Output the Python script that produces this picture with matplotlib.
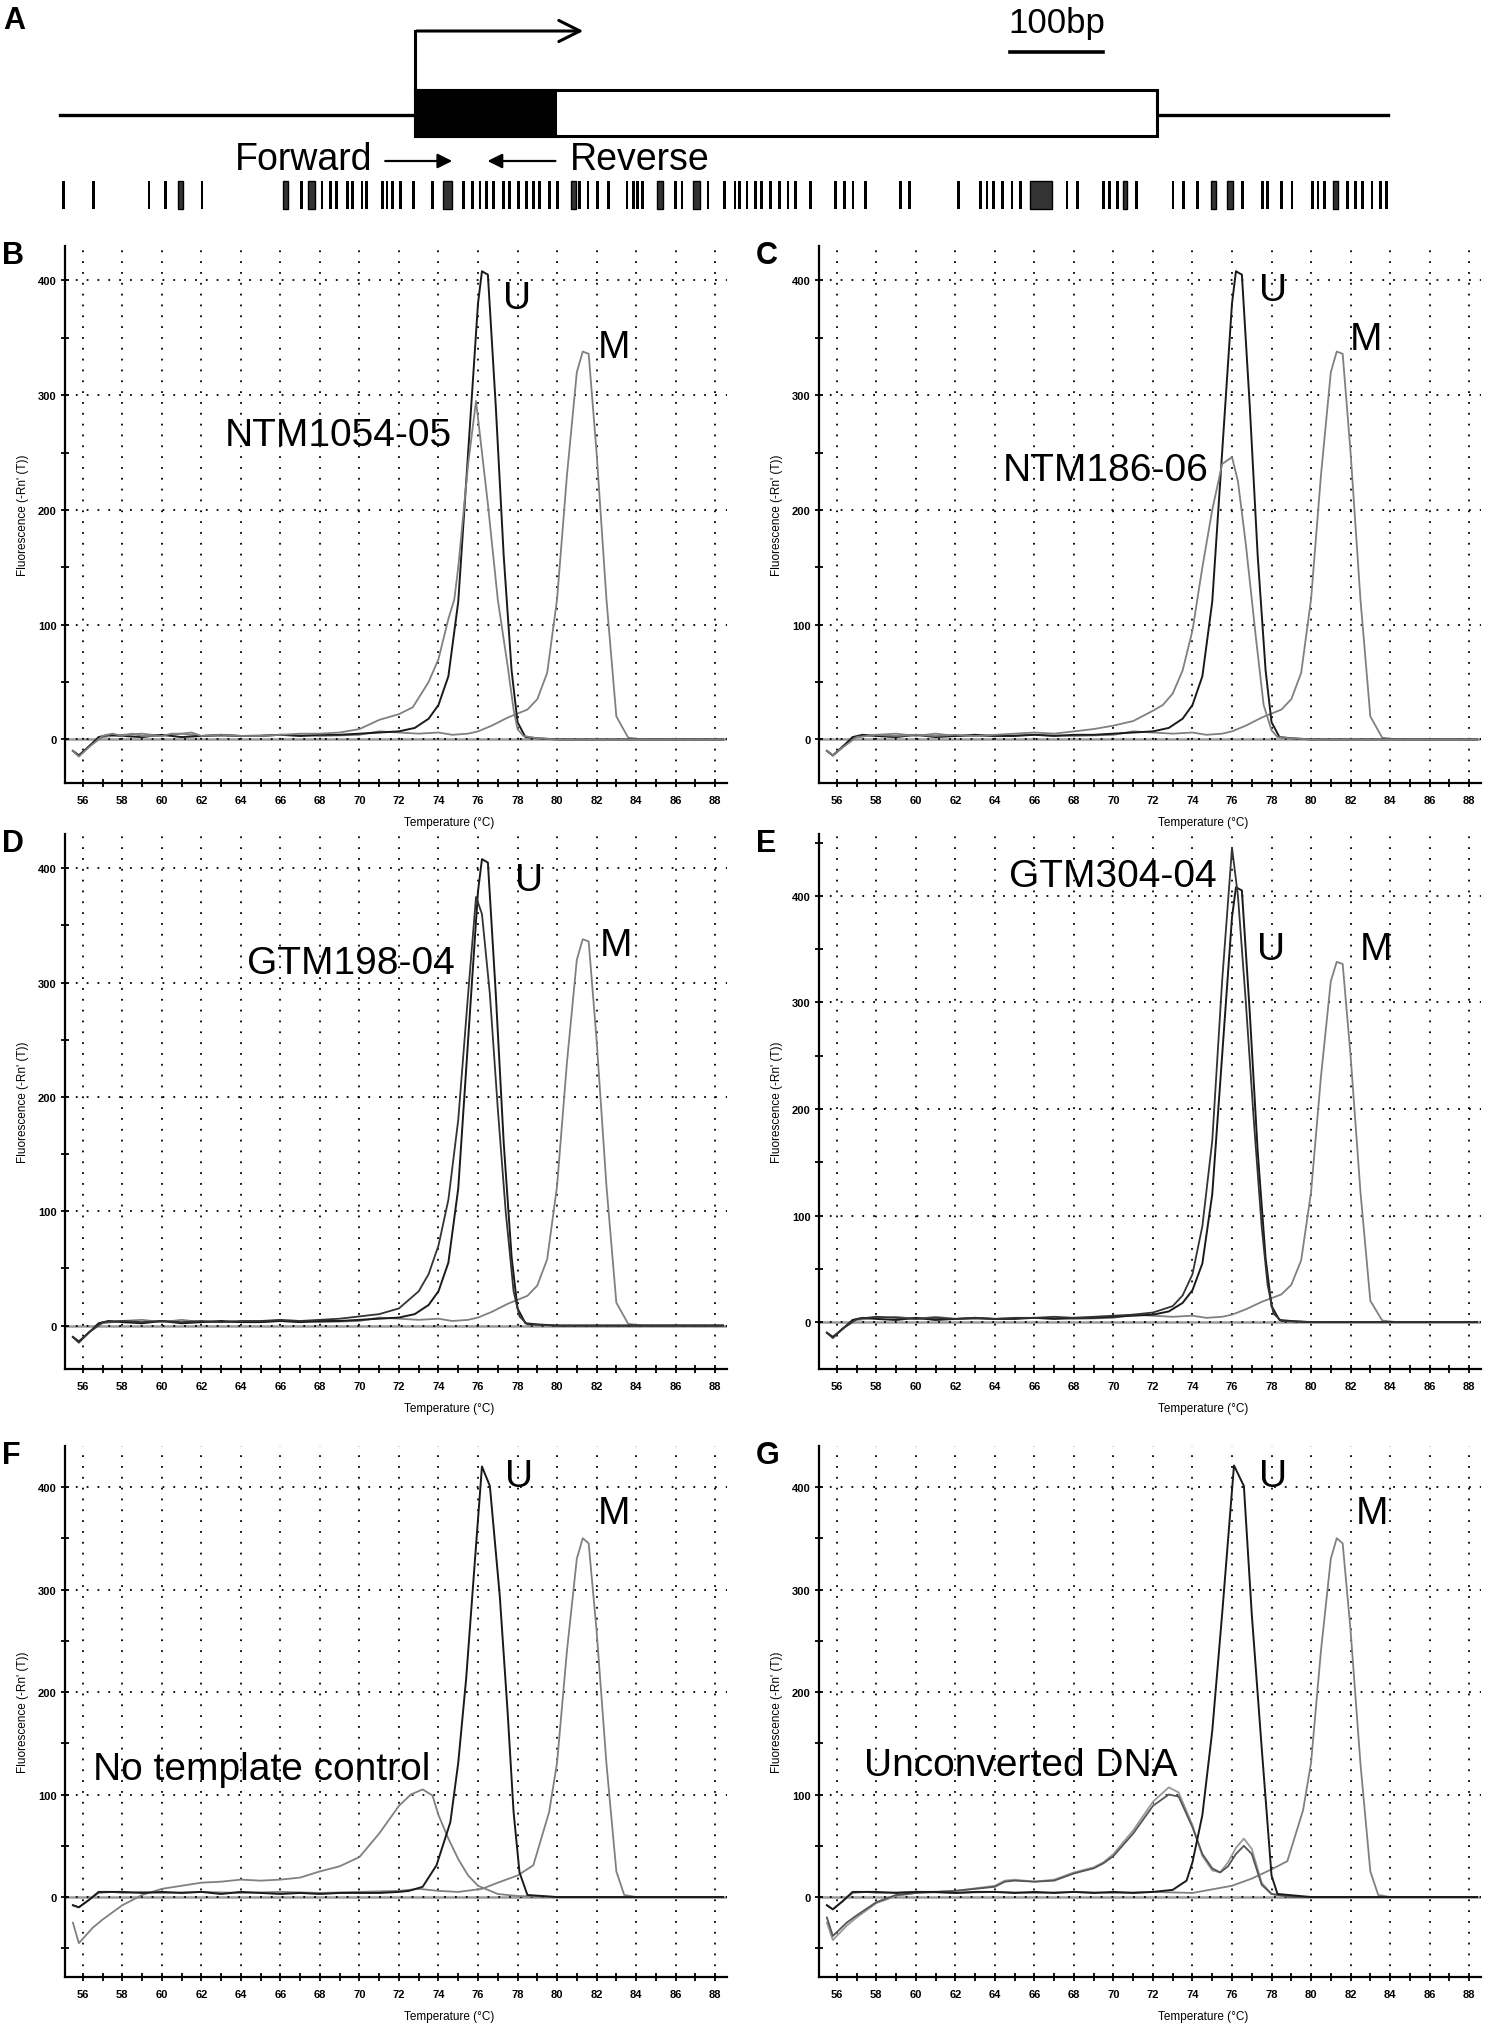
import matplotlib
matplotlib.use("Agg")
import matplotlib.pyplot as plt
from matplotlib.patches import Rectangle
from matplotlib.ticker import MultipleLocator

plt.rcParams["font.family"] = ["Liberation Sans", "DejaVu Sans"]

# ---------------- panel A: gene schematic (positions in bp, TSS = 0) ----------------
region_start, region_end = -382, 1046
exon_start, coding_end, exon_end = 0, 151, 798
tss_arrow_end = 184
fwd_primer = (-35, 43)
rev_primer = (154, 75)
scale_bar = (640, 740)
cpg_sites = [-378, -346, -286, -268, -229, -122, -100, -91, -84, -73, -67, -57, -52,
             -35, -30, -24, -16, -2, 19, 52, 62, 70, 77, 84, 95, 102, 111, 120, 127,
             134, 145, 153, 177, 186, 196, 208, 228, 235, 239, 245, 280, 287, 315,
             333, 344, 349, 357, 366, 373, 382, 392, 401, 409, 425, 452, 462, 471,
             484, 522, 532, 584, 608, 615, 622, 632, 642, 651, 701, 712, 740, 747,
             755, 776, 815, 826, 841, 890, 911, 917, 932, 943, 965, 971, 978, 1003,
             1011, 1019, 1029, 1038, 1045]
cpg_blocks = [(-255, -250), (-142, -137), (-115, -108), (30, 40), (168, 173), (260, 267),
              (299, 306), (661, 685), (761, 766), (856, 861), (873, 880), (987, 992)]

# ---------------- melt curves: temperature (C) and -dF/dT ----------------
# U and M standards (panels B-E)
std_u_t = [55.5, 55.8, 56.2, 56.8, 57.3, 58, 59, 60, 61, 62, 63, 64, 65, 66, 67, 68, 69, 70,
           71, 72, 72.8, 73.5, 74.0, 74.5, 75.0, 75.5, 76.0, 76.2, 76.5, 76.9, 77.3, 77.7,
           78.0, 78.4, 79, 80, 84, 88.4]
std_u_f = [-10, -14, -8, 2, 4, 3, 2, 4, 2, 3, 4, 3, 3, 4, 3, 4, 4, 5, 6, 7, 10, 18, 30, 55,
           120, 250, 380, 408, 405, 290, 160, 60, 15, 2, 1, 0, 0, 0]
std_m_t = [55.5, 55.8, 56.3, 57, 58, 59, 60, 61, 62, 64, 66, 68, 70, 71, 72, 73, 74, 74.7,
           75.5, 76, 76.7, 77.5, 78.5, 79, 79.5, 80, 80.5, 81.0, 81.3, 81.6, 82.0, 82.5, 83,
           83.6, 84.3, 88.4]
std_m_f = [-10, -14, -6, 2, 4, 5, 3, 5, 3, 3, 4, 3, 4, 7, 6, 5, 6, 4, 5, 7, 12, 19, 26, 35,
           58, 122, 230, 320, 338, 336, 250, 122, 20, 1.5, 0, 0]

# B: NTM1054-05
b_t = [55.5, 55.8, 56.3, 57, 57.5, 58, 58.5, 59, 60, 60.5, 61, 61.5, 62, 63, 64, 65, 66, 67,
       68, 69, 70, 71, 72, 72.7, 73.5, 74, 74.5, 74.8, 75.0, 75.5, 75.9, 76.2, 76.5, 77,
       77.5, 77.8, 78, 78.3, 79, 80, 88.4]
b_f = [-10, -15, -7, 3, 5, 3, 5, 3, 3, 5, 5, 6, 3, 4, 3, 3, 4, 5, 5, 6, 9, 17, 22, 28, 50,
       70, 105, 122, 150, 240, 295, 250, 205, 122, 64, 26, 9, 3, 1, 0, 0]
# C: NTM186-06
c_t = [55.5, 55.8, 56.3, 57, 58, 59, 60, 61, 62, 63, 64, 65, 66, 67, 68, 69, 70, 71, 72,
       72.5, 73, 73.5, 74, 74.5, 75, 75.5, 76.0, 76.3, 76.7, 77.2, 77.6, 78.0, 78.3, 79, 80,
       88.4]
c_f = [-10, -14, -7, 2, 4, 3, 4, 3, 4, 3, 4, 5, 6, 5, 7, 9, 12, 16, 25, 30, 40, 60, 95, 150,
       200, 240, 246, 225, 170, 90, 30, 8, 2, 1, 0, 0]
# D: GTM198-04
d_t = [55.5, 55.8, 56.3, 57, 58, 59, 60, 61, 62, 63, 64, 65, 66, 67, 68, 69, 70, 71, 72, 73,
       73.5, 74, 74.5, 75, 75.5, 75.9, 76.2, 76.6, 77.0, 77.4, 77.8, 78.1, 78.5, 80, 88.4]
d_f = [-10, -15, -6, 3, 4, 3, 4, 3, 4, 3, 4, 4, 5, 4, 5, 6, 8, 10, 15, 30, 45, 70, 110, 180,
       290, 375, 360, 290, 190, 100, 30, 8, 1, 0, 0]
# E: GTM304-04
e_t = [55.5, 55.8, 56.3, 57, 58, 59, 60, 61, 62, 63, 64, 65, 66, 67, 68, 69, 70, 71, 72, 73,
       73.5, 74, 74.5, 75, 75.5, 76.0, 76.3, 76.7, 77.1, 77.5, 77.8, 78.1, 78.5, 80, 88.4]
e_f = [-10, -15, -6, 3, 5, 4, 3, 4, 3, 4, 3, 4, 4, 5, 4, 5, 6, 7, 9, 15, 25, 45, 90, 170,
       320, 445, 400, 300, 190, 90, 35, 8, 1, 0, 0]

# F: standards + no template control
f_u_t = [55.5, 55.8, 56.3, 56.8, 57.5, 58, 59, 60, 61, 62, 63, 64, 65, 66, 67, 68, 69, 70,
         71, 72, 72.5, 73.2, 73.9, 74.6, 75.0, 75.4, 75.8, 76.2, 76.6, 77.1, 77.5, 77.8,
         78.1, 78.5, 80, 88.4]
f_u_f = [-8, -10, -3, 5, 5, 5, 4, 5, 4, 5, 3, 5, 4, 3, 4, 3, 4, 4, 4, 5, 6, 10, 31, 73, 131,
         213, 317, 420, 401, 294, 180, 83, 24, 2, 0, 0]
f_m_t = [55.5, 55.8, 56.3, 56.8, 57.5, 58, 59, 60, 62, 64, 66, 68, 70, 72, 73, 74, 75, 76.2,
         77, 78, 78.8, 79.6, 80, 80.5, 81.0, 81.3, 81.6, 82.0, 82.5, 83, 83.4, 84, 88.4]
f_m_f = [-8, -10, -3, 4, 5, 4, 5, 4, 5, 4, 5, 4, 5, 6, 8, 6, 5, 8, 14, 21, 31, 83, 131, 240,
         330, 350, 345, 260, 130, 25, 2, 0, 0]
f_n_t = [55.5, 55.8, 56.5, 57, 58, 59, 60, 61, 62, 63, 64, 65, 66, 67, 68, 69, 70, 71, 72,
         72.6, 73.2, 73.7, 74, 74.5, 75, 75.5, 76, 77, 78, 80, 88.4]
f_n_f = [-25, -45, -30, -22, -8, 2, 8, 11, 14, 15, 17, 16, 17, 19, 25, 30, 39, 62, 89, 100,
         105, 99, 80, 57, 37, 21, 11, 3, 1, 0, 0]

# G: standards + unconverted DNA (two replicates)
g_u_t = [55.5, 55.8, 56.3, 56.8, 57.5, 58, 59, 60, 61, 62, 63, 64, 65, 66, 67, 68, 69, 70,
         71, 72, 73, 73.7, 74, 74.5, 75, 75.5, 76.1, 76.6, 77, 77.5, 78, 78.3, 80, 88.4]
g_u_f = [-8, -12, -4, 5, 5, 5, 4, 5, 5, 4, 5, 5, 4, 5, 4, 5, 4, 5, 4, 5, 7, 16, 34, 80, 162,
         276, 421, 401, 276, 146, 21, 3, 0, 0]
g_m_t = [55.5, 55.8, 56.3, 56.8, 57.5, 58, 60, 62, 64, 66, 68, 70, 72, 74, 76, 77, 78, 78.8,
         79.6, 80, 80.5, 81.0, 81.3, 81.6, 82.0, 82.5, 83, 83.4, 84, 88.4]
g_m_f = [-8, -12, -4, 4, 5, 4, 5, 4, 5, 4, 5, 4, 5, 4, 11, 18, 27, 35, 85, 131, 240, 330,
         350, 345, 260, 130, 25, 2, 0, 0]
g_c_t = [55.5, 55.8, 56.5, 57, 58, 59, 60, 62, 64, 64.5, 65, 66, 67, 68, 69, 69.5, 70, 71,
         72, 72.8, 73.3, 74, 74.5, 75, 75.4, 75.8, 76.2, 76.6, 77, 77.5, 78, 79, 88.4]
g_c1_f = [-25, -42, -28, -20, -6, 1, 4, 6, 11, 16, 17, 15, 17, 24, 29, 34, 42, 65, 93, 107,
          102, 70, 40, 26, 24, 34, 48, 57, 47, 14, 3, 0, 0]
g_c2_f = [-20, -38, -25, -18, -5, 2, 4, 6, 10, 15, 16, 15, 16, 23, 28, 33, 40, 62, 89, 100,
          98, 68, 42, 28, 24, 30, 42, 50, 42, 12, 3, 0, 0]

W, H = 1486, 2033
fig = plt.figure(figsize=(W / 100, H / 100), dpi=100)

# ---------------- panel A ----------------
px_per_bp = 0.93
tss_px = 415
axA = fig.add_axes([0, 1 - 290 / H, 1, 290 / H])
axA.set_xlim(-tss_px / px_per_bp, (W - tss_px) / px_per_bp)
axA.set_ylim(290, 0)
axA.axis("off")
axA.plot([region_start, exon_start], [116, 116], color="black", lw=2.4)
axA.plot([exon_end, region_end], [116, 116], color="black", lw=2.4)
axA.add_patch(Rectangle((exon_start, 91), exon_end - exon_start, 46, facecolor="white",
                        edgecolor="black", lw=2.2, zorder=3))
axA.add_patch(Rectangle((exon_start, 91), coding_end - exon_start, 46, facecolor="black",
                        edgecolor="black", lw=2.2, zorder=4))
axA.plot([exon_start, exon_start], [91, 32], color="black", lw=2.2)
axA.annotate("", xy=(tss_arrow_end, 32), xytext=(exon_start - 1, 32),
             arrowprops=dict(arrowstyle="->", lw=2.2, mutation_scale=38, color="black"))
axA.annotate("", xy=(fwd_primer[1], 162), xytext=(fwd_primer[0], 162),
             arrowprops=dict(arrowstyle="-|>", lw=1.6, mutation_scale=22, color="black"))
axA.annotate("", xy=(rev_primer[1], 162), xytext=(rev_primer[0], 162),
             arrowprops=dict(arrowstyle="-|>", lw=1.6, mutation_scale=22, color="black"))
axA.text(fwd_primer[0] - 11, 160, "Forward", ha="right", va="center", fontsize=27)
axA.text(rev_primer[0] + 13, 160, "Reverse", ha="left", va="center", fontsize=27)
axA.plot(scale_bar, [53, 53], color="black", lw=2.6)
axA.text(sum(scale_bar) / 2, 24, "100bp", ha="center", va="center", fontsize=25)
axA.bar(cpg_sites, 28, width=3.0, bottom=182, color="black")
axA.bar([(s + e) / 2 for s, e in cpg_blocks], 28, width=[e - s for s, e in cpg_blocks],
        bottom=182, color="#333333", edgecolor="black", lw=1.0)
fig.text(3 / W, 1 - 6 / H, "A", fontsize=22, weight="bold", va="top")

# ---------------- melt curve panels ----------------
DARK, GREY = "#1a1a1a", "#808080"


def melt_panel(left, top, bottom, ylim, curves, letter, name, name_xy, u_xy, m_xy):
    h_px = bottom - top
    ax = fig.add_axes([left / W, 1 - bottom / H, 662 / W, h_px / H])
    ax.set_xlim(55.1, 88.6)
    ax.set_ylim(*ylim)
    ax.xaxis.set_major_locator(MultipleLocator(2))
    ax.xaxis.set_minor_locator(MultipleLocator(1))
    ax.yaxis.set_major_locator(MultipleLocator(100))
    ax.yaxis.set_minor_locator(MultipleLocator(50))
    ax.grid(True, which="major", color="black", lw=1.3, ls=(0, (1, 5)), zorder=0)
    ax.axhline(0, color="#9a9a9a", lw=1.8, zorder=1)
    for s in ("top", "right"):
        ax.spines[s].set_visible(False)
    for s in ("left", "bottom"):
        ax.spines[s].set_linewidth(1.6)
    ax.tick_params(which="both", direction="inout", length=6, width=1.3)
    ax.tick_params(axis="x", pad=6, labelsize=8)
    ax.tick_params(axis="y", pad=3, labelsize=8)
    for lab in ax.get_xticklabels() + ax.get_yticklabels():
        lab.set_fontweight("bold")
    for t, f, col, lw in curves:
        ax.plot(t, f, color=col, lw=lw, zorder=3)
    ax.text(0.58, -39 / h_px, "Temperature (\u00b0C)", transform=ax.transAxes,
            ha="center", va="center", fontsize=8.5)
    ax.text(-42 / 662, 0.5, "Fluorescence (-Rn' (T))", transform=ax.transAxes,
            rotation=90, ha="center", va="center", fontsize=8.5)
    ax.text(name_xy[0], name_xy[1], name, ha="left", va="center", fontsize=28)
    ax.text(u_xy[0], u_xy[1], "U", ha="center", va="center", fontsize=28)
    ax.text(m_xy[0], m_xy[1], "M", ha="center", va="center", fontsize=28)
    fig.text((left - 63) / W, 1 - (top - 6) / H, letter, fontsize=22, weight="bold", va="top")
    return ax


L1, L2 = 65, 819
std_curves = [(std_m_t, std_m_f, GREY, 1.3), (std_u_t, std_u_f, DARK, 1.4)]

melt_panel(L1, 247, 784, (-38, 430), std_curves + [(b_t, b_f, GREY, 1.3)],
           "B", "NTM1054-05", (63.2, 265), (78.0, 385), (82.9, 342))
melt_panel(L2, 247, 784, (-38, 430), std_curves + [(c_t, c_f, GREY, 1.3)],
           "C", "NTM186-06", (64.4, 235), (78.1, 392), (82.8, 349))
melt_panel(L1, 835, 1370, (-38, 430), std_curves + [(d_t, d_f, "#333333", 1.3)],
           "D", "GTM198-04", (64.3, 317), (78.6, 390), (83.0, 333))
melt_panel(L2, 835, 1370, (-44, 458), std_curves + [(e_t, e_f, "#333333", 1.3)],
           "E", "GTM304-04", (64.7, 419), (78.0, 350), (83.3, 350))
melt_panel(L1, 1447, 1978, (-78, 440),
           [(f_m_t, f_m_f, GREY, 1.3), (f_n_t, f_n_f, GREY, 1.3), (f_u_t, f_u_f, DARK, 1.4)],
           "F", "No template control", (56.5, 125), (78.1, 411), (82.9, 375))
melt_panel(L2, 1447, 1978, (-78, 440),
           [(g_m_t, g_m_f, GREY, 1.3), (g_c_t, g_c1_f, "#999999", 1.3),
            (g_c_t, g_c2_f, "#555555", 1.3), (g_u_t, g_u_f, DARK, 1.4)],
           "G", "Unconverted DNA", (57.4, 129), (78.1, 411), (83.1, 375))

fig.savefig("out.png", dpi=100, facecolor="white")
